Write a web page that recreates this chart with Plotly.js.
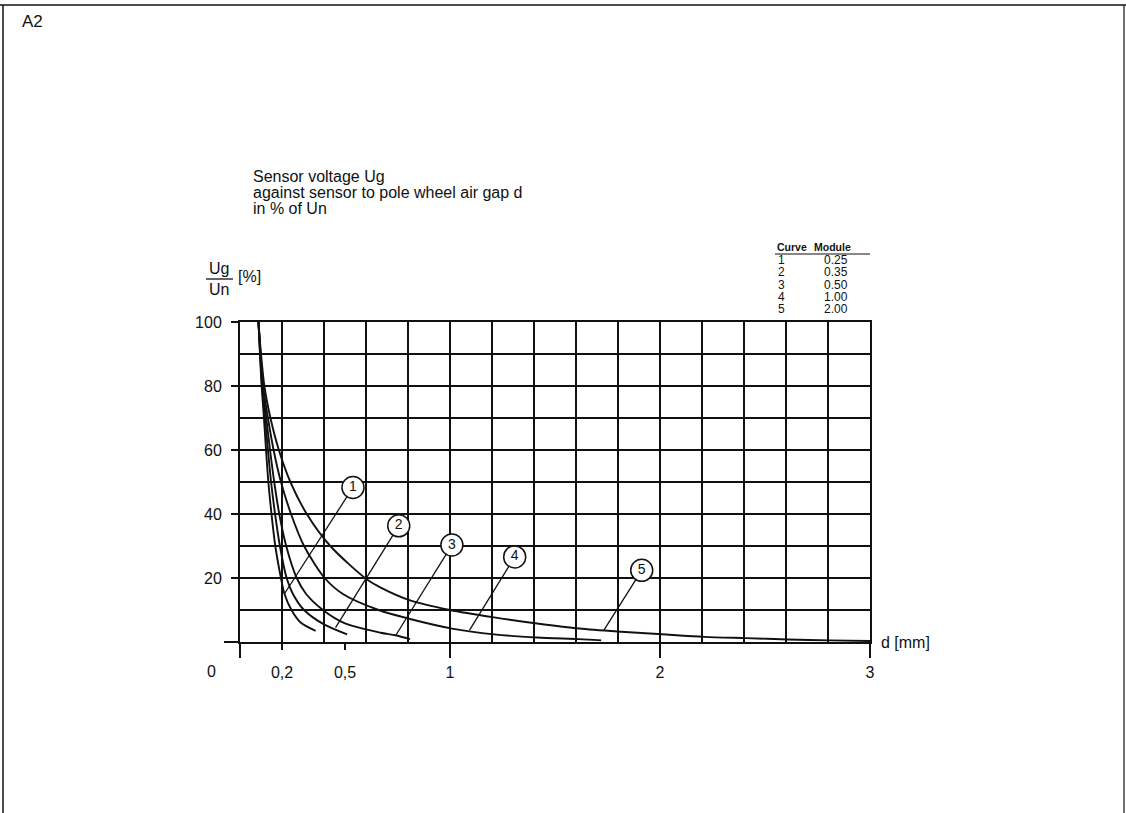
<!DOCTYPE html>
<html>
<head>
<meta charset="utf-8">
<script src="https://cdn.plot.ly/plotly-3.0.1.min.js"></script>
<style>
  html, body { margin: 0; padding: 0; background: #fff; }
  #chart { width: 1126px; height: 813px; }
</style>
</head>
<body>
<div id="chart"></div>
<script>
// ---- data ----
const curveNames = ['1', '2', '3', '4', '5'];
const modules = ['0.25', '0.35', '0.50', '1.00', '2.00'];

const c1x = [0.088, 0.095, 0.103, 0.114, 0.124, 0.135, 0.150, 0.168, 0.195, 0.212, 0.245, 0.29, 0.36];
const c1y = [100, 90, 80, 70, 60, 50, 40, 30, 20, 15, 10, 6, 3.5];

const c2x = [0.088, 0.096, 0.105, 0.119, 0.133, 0.148, 0.167, 0.190, 0.222, 0.252, 0.305, 0.40, 0.51];
const c2y = [100, 90, 80, 70, 60, 50, 40, 30, 20, 15, 10, 5.5, 2.4];

const c3x = [0.088, 0.097, 0.107, 0.125, 0.143, 0.163, 0.187, 0.220, 0.270, 0.315, 0.395, 0.50, 0.67, 0.74, 0.81];
const c3y = [100, 90, 80, 70, 60, 50, 40, 30, 20, 15, 10, 5.8, 2.9, 2.1, 0.9];

const c4x = [0.088, 0.098, 0.110, 0.133, 0.160, 0.195, 0.243, 0.305, 0.403, 0.49, 0.66, 0.81, 1.01, 1.21, 1.415, 1.615, 1.72];
const c4y = [100, 90, 80, 70, 60, 50, 40, 30, 20, 15, 10, 7.2, 4.2, 2.4, 1.4, 0.9, 0.5];

const c5x = [0.088, 0.100, 0.116, 0.145, 0.185, 0.240, 0.318, 0.430, 0.605, 0.67, 0.81, 1.0, 1.21, 1.415, 1.615, 1.815, 2.01, 2.21, 2.41, 2.61, 2.81, 3.0];
const c5y = [100, 90, 80, 70, 60, 50, 40, 30, 19.5, 17, 13, 10, 7.7, 5.8, 4.2, 3.2, 2.4, 1.6, 1.2, 0.8, 0.5, 0.3];

// circled curve labels and the points their leader lines touch
const labelX = [0.538, 0.756, 1.009, 1.308, 1.913];
const labelY = [48.3, 36.3, 30.3, 26.6, 22.4];
const leaderEndX = [0.211, 0.455, 0.742, 1.093, 1.733];
const leaderEndY = [15.0, 4.5, 2.1, 3.7, 3.7];

// tick labels
const xTickVals = [0.2, 0.5, 1, 2, 3];
const xTickText = ['0,2', '0,5', '1', '2', '3'];
const yTickVals = [0, 20, 40, 60, 80, 100];
const yTickText = ['', '20', '40', '60', '80', '100'];

// ---- drawing ----
const FONT = 'Liberation Sans, Arial, sans-serif';
const INK = '#111';

// plot area in pixels (integer grid spacing: 42 px per 0.2 mm, 32 px per 10 %)
const L = 240, R = 870, T = 322, B = 642;
const pxX = p => (p - L) / (R - L);
const pxY = p => (B - p) / (B - T);

const curvesX = [c1x, c2x, c3x, c4x, c5x];
const curvesY = [c1y, c2y, c3y, c4y, c5y];

const traces = [];
curvesX.forEach((xs, i) => {
  traces.push({
    type: 'scatter', mode: 'lines', x: xs, y: curvesY[i],
    name: 'Curve ' + curveNames[i],
    line: { color: INK, width: 1.9, shape: 'spline', smoothing: 0.8 },
    hoverinfo: 'skip', showlegend: false
  });
});
labelX.forEach((lx, i) => {
  traces.push({
    type: 'scatter', mode: 'lines', x: [lx, leaderEndX[i]], y: [labelY[i], leaderEndY[i]],
    line: { color: INK, width: 1.3 }, hoverinfo: 'skip', showlegend: false
  });
});
traces.push({
  type: 'scatter', mode: 'markers+text', x: labelX, y: labelY, text: curveNames,
  textposition: 'middle center', textfont: { family: FONT, size: 14, color: INK },
  marker: { symbol: 'circle', size: 22, color: '#fff', line: { color: INK, width: 1.5 } },
  cliponaxis: false, hoverinfo: 'skip', showlegend: false
});
// anchor traces for overlay axes
traces.push({ type: 'scatter', x: [], y: [], xaxis: 'x2', yaxis: 'y2', showlegend: false });
traces.push({ type: 'scatter', x: [], y: [], xaxis: 'x3', yaxis: 'y', showlegend: false });

const annotations = [];
function ann(text, x, y, opts) {
  annotations.push(Object.assign({
    text: text, xref: 'paper', yref: 'paper', x: pxX(x), y: pxY(y),
    showarrow: false, xanchor: 'left', yanchor: 'middle',
    font: { family: FONT, size: 16, color: INK }
  }, opts || {}));
}
ann('A2', 20, 21, { font: { family: FONT, size: 17, color: INK } });
ann('Sensor voltage Ug', 251, 176);
ann('against sensor to pole wheel air gap d', 251, 192);
ann('in % of Un', 251, 208);
ann('Ug', 219, 268, { xanchor: 'center' });
ann('Un', 219, 289, { xanchor: 'center' });
ann('[%]', 236, 276);
ann('0', 211, 671, { xanchor: 'center' });
ann('d [mm]', 879, 642);
// module table
ann('<b>Curve</b>', 775, 247, { font: { family: FONT, size: 10.5, color: INK } });
ann('<b>Module</b>', 812, 247, { font: { family: FONT, size: 10.5, color: INK } });
curveNames.forEach((c, i) => {
  const yy = 260 + i * 12.3;
  ann(c, 776, yy, { font: { family: FONT, size: 12, color: INK } });
  ann(modules[i], 836, yy, { xanchor: 'center', font: { family: FONT, size: 12, color: INK } });
});

const shapes = [
  // fraction bar of Ug/Un
  { type: 'line', xref: 'paper', yref: 'paper', x0: pxX(206), x1: pxX(233), y0: pxY(279), y1: pxY(279), line: { color: INK, width: 1.3 } },
  // table underline
  { type: 'line', xref: 'paper', yref: 'paper', x0: pxX(775), x1: pxX(870), y0: pxY(254), y1: pxY(254), line: { color: INK, width: 1.2 } },
  // extension of the d axis to the left
  { type: 'line', xref: 'paper', yref: 'paper', x0: pxX(224), x1: 0, y0: 0, y1: 0, line: { color: INK, width: 2 } },
  // page frame
  { type: 'line', xref: 'paper', yref: 'paper', x0: pxX(0), x1: pxX(1126), y0: pxY(5), y1: pxY(5), line: { color: INK, width: 1.5 } },
  { type: 'line', xref: 'paper', yref: 'paper', x0: pxX(3), x1: pxX(3), y0: pxY(5), y1: pxY(813), line: { color: INK, width: 1.5 } },
  { type: 'line', xref: 'paper', yref: 'paper', x0: pxX(1124), x1: pxX(1124), y0: pxY(5), y1: pxY(813), line: { color: INK, width: 1.2 } }
];

const gridAxis = {
  showgrid: true, gridcolor: INK, gridwidth: 2, zeroline: false,
  showticklabels: false, ticks: '', showline: true, linecolor: INK, linewidth: 2, mirror: true,
  fixedrange: true
};

const layout = {
  width: 1126, height: 813,
  margin: { l: L, r: 1126 - R, t: T, b: 813 - B, pad: 0 },
  paper_bgcolor: '#fff', plot_bgcolor: '#fff',
  showlegend: false,
  font: { family: FONT, size: 16, color: INK },
  xaxis: Object.assign({}, gridAxis, { range: [0, 3], tickmode: 'linear', tick0: 0, dtick: 0.2 }),
  yaxis: Object.assign({}, gridAxis, { range: [0, 100], tickmode: 'linear', tick0: 0, dtick: 10 }),
  xaxis2: {
    overlaying: 'x', anchor: 'y2', side: 'bottom', range: [0, 3],
    tickmode: 'array', tickvals: [0, 1, 2, 3], ticks: 'outside', ticklen: 15, tickwidth: 2, tickcolor: INK,
    showticklabels: false, showgrid: false, zeroline: false, showline: false, fixedrange: true
  },
  xaxis3: {
    overlaying: 'x', anchor: 'y', side: 'bottom', range: [0, 3],
    tickmode: 'array', tickvals: xTickVals, ticktext: xTickText,
    ticks: 'outside', ticklen: 7, tickwidth: 2, tickcolor: INK, ticklabelstandoff: 9,
    tickfont: { family: FONT, size: 16, color: INK },
    showgrid: false, zeroline: false, showline: false, fixedrange: true
  },
  yaxis2: {
    overlaying: 'y', anchor: 'x2', side: 'left', range: [0, 100],
    tickmode: 'array', tickvals: yTickVals, ticktext: yTickText,
    ticks: 'outside', ticklen: 8, tickwidth: 2, tickcolor: INK, ticklabelstandoff: 6,
    tickfont: { family: FONT, size: 16, color: INK },
    showgrid: false, zeroline: false, showline: false, fixedrange: true
  },
  annotations: annotations,
  shapes: shapes
};

Plotly.newPlot('chart', traces, layout, { staticPlot: true, displayModeBar: false });
</script>
</body>
</html>
